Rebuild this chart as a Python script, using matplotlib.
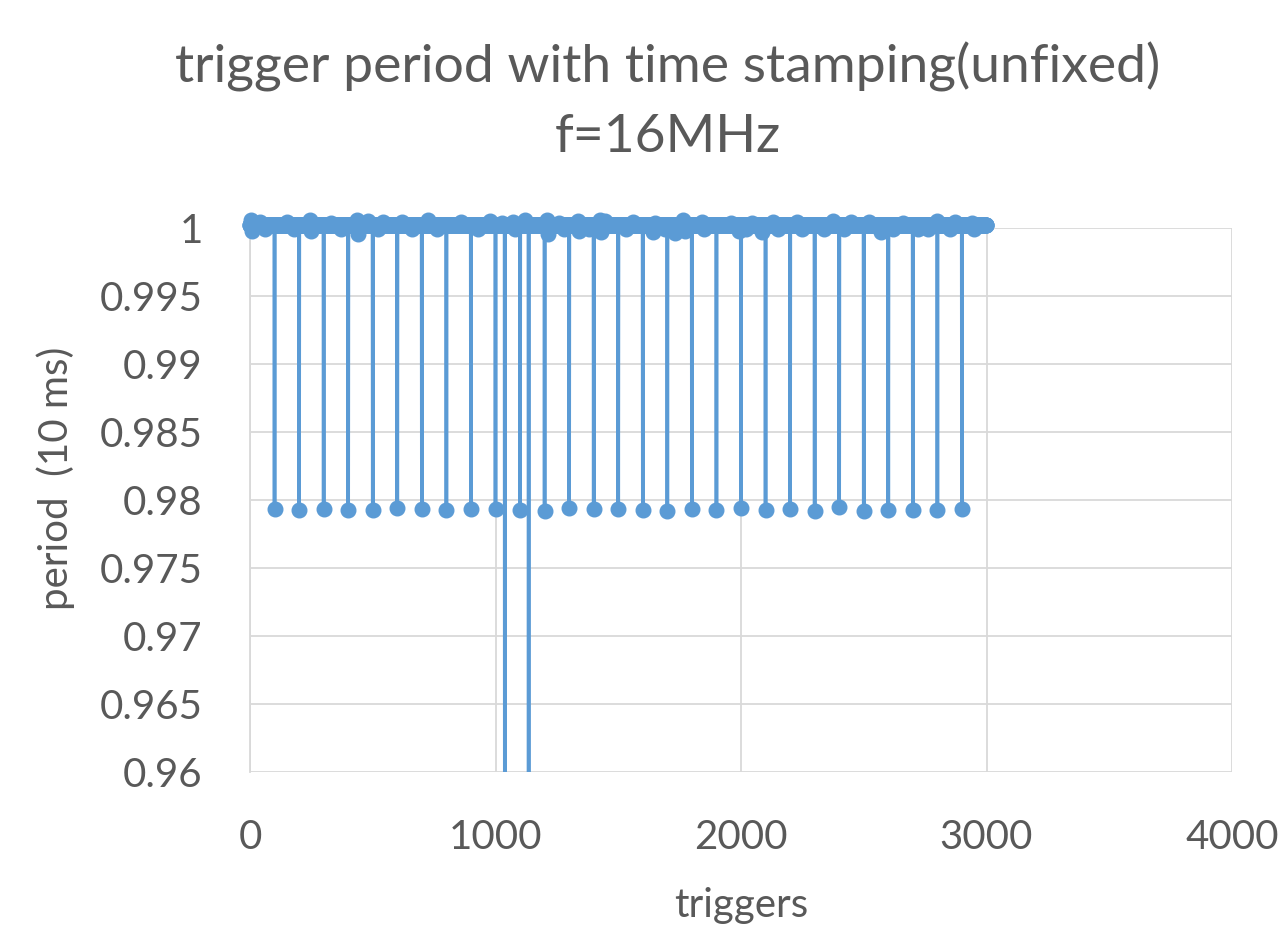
import numpy as np
import matplotlib.pyplot as plt
from matplotlib.patches import Rectangle

# -------- DATA --------
n_triggers = 3000
base_period = 1.0002

# every 100th trigger comes in short
dip_triggers = [100, 200, 300, 400, 500, 600, 700, 800, 900, 1000,
                1100, 1200, 1300, 1400, 1500, 1600, 1700, 1800, 1900, 2000,
                2100, 2200, 2300, 2400, 2500, 2600, 2700, 2800, 2900]
dip_periods = [0.97931, 0.97926, 0.97931, 0.97926, 0.97926, 0.97939, 0.97934, 0.97926, 0.97931, 0.97931,
               0.97926, 0.97922, 0.97941, 0.97936, 0.97936, 0.97927, 0.97919, 0.97931, 0.97926, 0.97939,
               0.97926, 0.97934, 0.97922, 0.97946, 0.97922, 0.97926, 0.97926, 0.97926, 0.97934]

# two big drops that go off the bottom of the axis
drop_triggers = [1038, 1135]
drop_periods = [0.950, 0.950]

# jitter around 1: larger bumps
high_triggers = [3, 243, 435, 480, 725, 977, 1025, 1120, 1208, 1335,
                 1425, 1445, 1763, 2045, 2375, 2798]
high_periods = [1.0006, 1.0006, 1.0006, 1.0005, 1.0006, 1.0005, 1.0004, 1.0006, 1.0006, 1.0005,
                1.0006, 1.0005, 1.0006, 1.0004, 1.0005, 1.0005]
low_triggers = [8, 250, 440, 1215, 1340, 1430, 1640, 1730, 1770, 1990,
                2085, 2572]
low_periods = [0.9998, 0.9998, 0.99955, 0.99955, 0.9998, 0.9997, 0.9997, 0.99965, 0.9998, 0.9998,
               0.9997, 0.9997]

# jitter around 1: smaller wobble that thickens the band
wobble_up_triggers = [40, 150, 330, 540, 620, 800, 860, 1070, 1260, 1500, 1560, 1650, 1840,
                      1900, 1960, 2130, 2230, 2300, 2450, 2520, 2660, 2700, 2870, 2940]
wobble_up_periods = [1.00042, 1.00044, 1.0004, 1.00042, 1.00044, 1.0004, 1.00042, 1.00044, 1.0004, 1.00042,
                     1.00044, 1.0004, 1.00042, 1.00044, 1.0004, 1.00042, 1.00044, 1.0004, 1.00042, 1.00044,
                     1.0004, 1.00042, 1.00044, 1.0004]
wobble_dn_triggers = [60, 180, 370, 520, 660, 760, 930, 1080, 1280, 1380, 1530, 1690, 1850,
                      2020, 2150, 2250, 2340, 2420, 2620, 2720, 2760, 2850, 2950]
wobble_dn_periods = [0.99994, 0.99992, 0.99995, 0.99993, 0.99994, 0.99992, 0.99995, 0.99993, 0.99994, 0.99992,
                     0.99995, 0.99993, 0.99994, 0.99992, 0.99995, 0.99993, 0.99994, 0.99992, 0.99995, 0.99993,
                     0.99994, 0.99992, 0.99995]

# -------- BUILD SERIES --------
triggers = np.arange(n_triggers)
period = np.full(n_triggers, base_period)
for t_list, p_list in [(wobble_up_triggers, wobble_up_periods), (wobble_dn_triggers, wobble_dn_periods),
                       (high_triggers, high_periods), (low_triggers, low_periods),
                       (dip_triggers, dip_periods), (drop_triggers, drop_periods)]:
    for t, p in zip(t_list, p_list):
        period[t] = p

# -------- PLOT --------
plt.rcParams['font.family'] = ['Lato', 'DejaVu Sans']
text_col = '#595959'
grid_col = '#d9d9d9'
blue = '#5b9bd5'

fig = plt.figure(figsize=(12.86, 9.30), dpi=100)
ax = fig.add_axes([250 / 1286, 1 - 772 / 930, (1232 - 250) / 1286, (772 - 228) / 930])

line, = ax.plot(triggers, period, '-o', color=blue, lw=2.6, ms=10.5, zorder=3)
# like Excel: points above the top may spill over, bottom is cut at the axis
clip = Rectangle((-0.05, 0), 1.1, 1.2, transform=ax.transAxes, visible=False)
ax.add_patch(clip)
line.set_clip_path(clip)

ax.set_xlim(0, 4000)
ax.set_ylim(0.96, 1.0)
ax.set_xticks([0, 1000, 2000, 3000, 4000])
ax.set_yticks([0.96, 0.965, 0.97, 0.975, 0.98, 0.985, 0.99, 0.995, 1.0])
ax.set_yticklabels(['0.96', '0.965', '0.97', '0.975', '0.98', '0.985', '0.99', '0.995', '1'])
ax.grid(True, color=grid_col, lw=1.3, zorder=0)
for s in ['top', 'right', 'bottom']:
    ax.spines[s].set_visible(False)
ax.spines['left'].set_color(grid_col)
ax.spines['left'].set_linewidth(1.3)
ax.tick_params(length=0, labelsize=29, colors=text_col, pad=34)

ax.set_xlabel('triggers', fontsize=29, color=text_col, va='baseline')
ax.xaxis.set_label_coords(0.5, -(917 - 772) / 544)
ax.set_ylabel('period  (10 ms)', fontsize=29, color=text_col)
ax.yaxis.set_label_coords(-0.178, 0.54)

fig.text(668 / 1286, 1 - 82 / 930, 'trigger period with time stamping(unfixed)',
         ha='center', va='baseline', fontsize=38.5, color=text_col)
fig.text(668 / 1286, 1 - 152 / 930, 'f=16MHz',
         ha='center', va='baseline', fontsize=38.5, color=text_col)

fig.savefig('out.png', dpi=100)
